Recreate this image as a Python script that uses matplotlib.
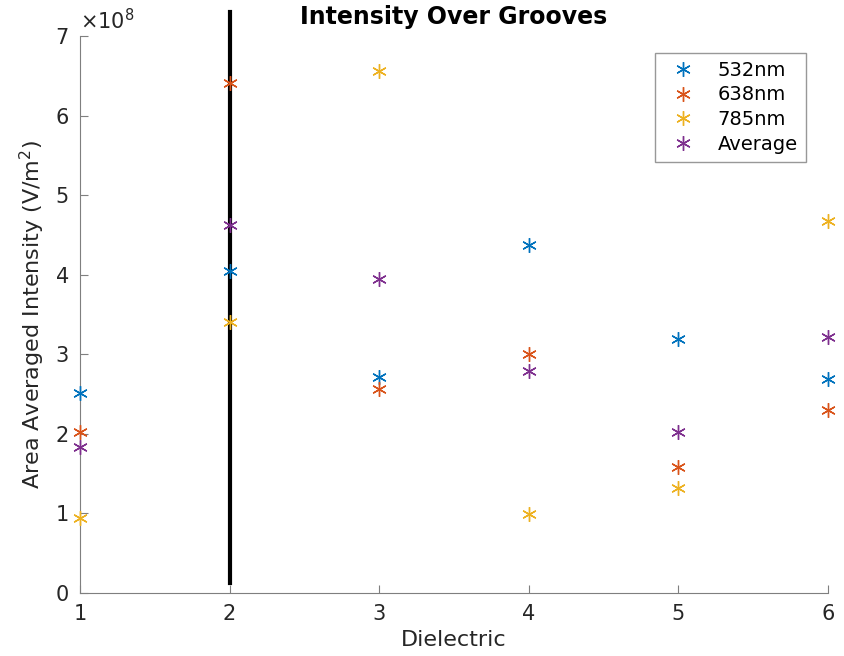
import matplotlib
matplotlib.use('Agg')
import matplotlib.pyplot as plt

# data (units of 1e8 V/m^2)
dielectric = [1, 2, 3, 4, 5, 6]
i532 = [2.51, 4.05, 2.71, 4.37, 3.19, 2.69]
i638 = [2.02, 6.41, 2.57, 3.01, 1.59, 2.30]
i785 = [0.94, 3.41, 6.56, 0.99, 1.32, 4.67]
avg = [1.83, 4.62, 3.95, 2.79, 2.03, 3.22]
labels = ['532nm', '638nm', '785nm', 'Average']
colors = ['#0072BD', '#D95319', '#EDB120', '#7E2F8E']

# vertical marker line
line_x = 2
line_y = [0.12, 7.3]

scale = 1e8

fig = plt.figure(figsize=(8.44, 6.56), dpi=100)
ax = fig.add_axes([0.0948, 0.096, 0.8862, 0.849])

for series, lab, c in zip([i532, i638, i785, avg], labels, colors):
    ax.plot(dielectric, [v * scale for v in series], linestyle='none', marker=(6, 2, 0),
            markersize=10.5, markeredgewidth=1.0, color=c, label=lab, clip_on=False,
            zorder=3)

ax.plot([line_x, line_x], [v * scale for v in line_y], color='black', linewidth=3,
        clip_on=False, zorder=1)

ax.set_xlim(1, 6)
ax.set_ylim(0, 7e8)
ax.set_yticks([i * 1e8 for i in range(8)])
ax.set_yticklabels([str(i) for i in range(8)])
ax.set_xticks(dielectric)

for s in ['top', 'right']:
    ax.spines[s].set_visible(False)
for s in ['left', 'bottom']:
    ax.spines[s].set_color('#7f7f7f')
ax.tick_params(direction='in', colors='#262626', labelsize=15, length=6)
ax.tick_params(axis='x', pad=8)
ax.tick_params(axis='y', pad=8)
ax.tick_params(color='#7f7f7f')

ax.text(0.0, 1.005, r'$\times10^{8}$', transform=ax.transAxes, fontsize=15,
        color='#262626', ha='left', va='bottom')

ax.set_xlabel('Dielectric', fontsize=16, color='#262626')
ax.set_ylabel('Area Averaged Intensity (V/m$^2$)', fontsize=16, color='#262626',
              labelpad=6)
ax.set_title('Intensity Over Grooves', fontsize=17, fontweight='bold', pad=9)

leg = ax.legend(loc='upper right', bbox_to_anchor=(0.97, 0.97), fontsize=14,
                fancybox=False, edgecolor='#7f7f7f', handletextpad=0.8,
                borderpad=0.4, labelspacing=0.3, handlelength=2.0, borderaxespad=0)
leg.get_frame().set_linewidth(1.0)

fig.savefig('out.png', dpi=100)
